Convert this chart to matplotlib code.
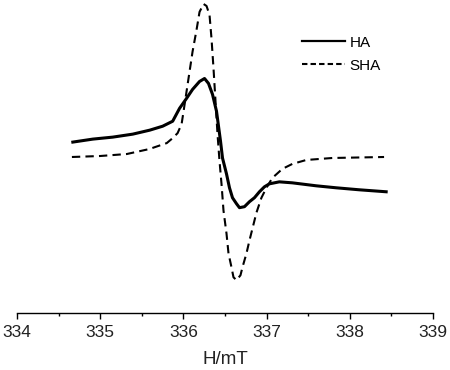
#!/usr/bin/env python3
# -*- coding: utf-8 -*-

import matplotlib
matplotlib.use('Agg')
import matplotlib.pyplot as plt
from matplotlib.lines import Line2D
from matplotlib.ticker import MultipleLocator

# field (mT) and signal (arb. units)
ha_field = [334.671, 334.911, 335.151, 335.391, 335.595, 335.751, 335.871, 335.954,
            336.038, 336.110, 336.194, 336.254, 336.302, 336.350, 336.398, 336.446,
            336.470, 336.518, 336.554, 336.590, 336.638, 336.674, 336.734, 336.794,
            336.854, 336.914, 336.974, 337.034, 337.153, 337.309, 337.597, 337.837,
            338.113, 338.437]
ha_signal = [15, 18, 20, 23, 27, 31, 36, 49,
             59, 68, 76, 79, 74, 63, 46, 16,
             -1, -17, -31, -41, -47, -51, -50, -45,
             -41, -35, -30, -27, -25, -26, -29, -31,
             -33, -35]

sha_field = [334.66, 335.00, 335.32, 335.59, 335.80, 335.871, 335.930, 335.978,
             336.002, 336.038, 336.074, 336.110, 336.158, 336.194, 336.242, 336.278,
             336.314, 336.338, 336.362, 336.386, 336.410, 336.434, 336.458, 336.482,
             336.518, 336.542, 336.578, 336.602, 336.638, 336.686, 336.710, 336.758,
             336.794, 336.830, 336.878, 336.938, 336.998, 337.070, 337.189, 337.309,
             337.477, 337.789, 338.412]
sha_signal = [0, 1, 3, 8, 14, 19, 24, 33,
              46, 66, 86, 106, 128, 146, 154, 152,
              143, 119, 89, 56, 23, -4, -27, -54,
              -77, -97, -111, -121, -124, -119, -111, -97,
              -84, -72, -56, -41, -31, -21, -12, -7,
              -3, -1, 0]

plt.rcParams['font.family'] = ['Liberation Sans', 'DejaVu Sans']

fig = plt.figure(figsize=(4.5, 3.7), dpi=100)
ax = fig.add_axes([17/450, 57/370, 416/450, 313/370])

ax.plot(ha_field, ha_signal, '-', color='black', lw=2.2)
ax.plot(sha_field, sha_signal, '--', color='black', lw=1.5, dashes=(4, 2.5))

ax.set_xlim(334, 339)
ax.set_ylim(-157, 158)
ax.xaxis.set_major_locator(MultipleLocator(1))
ax.xaxis.set_minor_locator(MultipleLocator(0.5))
ax.tick_params(axis='x', which='major', direction='out', length=4.5, width=1,
               labelsize=12.5, pad=4, labelcolor='#222222')
ax.tick_params(axis='x', which='minor', direction='out', length=2.2, width=1)
ax.set_yticks([])
for side in ['left', 'right', 'top']:
    ax.spines[side].set_visible(False)
ax.spines['bottom'].set_linewidth(1)
ax.set_xlabel('H/mT', fontsize=13.5, labelpad=8, color='#222222')

handles = [Line2D([], [], color='black', lw=1.6),
           Line2D([], [], color='black', lw=1.5, ls='--', dashes=(2.6, 1.5))]
ax.legend(handles, ['HA', 'SHA'], loc='upper right', bbox_to_anchor=(0.907, 0.93),
          frameon=False, fontsize=11, handlelength=2.8, handletextpad=0.3,
          labelspacing=0.6)

fig.savefig('out.png', dpi=100)
